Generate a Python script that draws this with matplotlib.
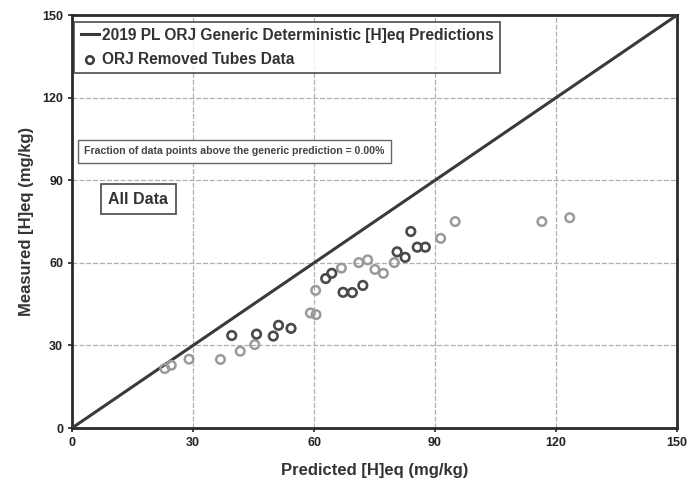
import matplotlib.pyplot as plt
import numpy as np

plt.rcParams['font.family'] = ['Liberation Sans', 'DejaVu Sans']

# predicted vs measured [H]eq
pred_light = [23.0, 24.6, 29.0, 36.8, 41.7, 45.3, 59.1, 60.5, 60.4, 66.8, 71.1,
              73.3, 75.1, 77.2, 79.9, 91.4, 95.0, 116.5, 123.4]
meas_light = [21.6, 22.8, 25.0, 24.9, 27.9, 30.3, 41.8, 41.2, 50.0, 58.1, 60.1,
              61.1, 57.6, 56.2, 60.1, 68.9, 75.0, 75.0, 76.4]
pred_dark = [39.6, 45.75, 49.9, 51.2, 54.3, 62.9, 64.4, 67.2, 69.5, 72.1,
             80.6, 82.6, 84.0, 85.6, 87.6]
meas_dark = [33.6, 34.1, 33.4, 37.3, 36.2, 54.3, 56.2, 49.3, 49.2, 51.8,
             64.0, 62.0, 71.4, 65.7, 65.7]
pred_line = [0, 150]
ticks = [0, 30, 60, 90, 120, 150]

fig = plt.figure(figsize=(6.88, 4.84), dpi=100)
ax = fig.add_axes([0.1047, 0.1157, 0.8793, 0.853])

ax.plot(pred_line, pred_line, color='#3a3a3a', lw=2.2,
        label='2019 PL ORJ Generic Deterministic [H]eq Predictions', zorder=3)
ax.scatter(pred_light, meas_light, s=38, facecolors='none', edgecolors='#9a9a9a',
           linewidths=1.8, zorder=4)
ax.scatter(pred_dark, meas_dark, s=38, facecolors='none', edgecolors='#4a4a4a',
           linewidths=1.9, zorder=4)
# legend proxy for the data points
ax.scatter([], [], s=30, facecolors='none', edgecolors='#3a3a3a', linewidths=1.8,
           label='ORJ Removed Tubes Data')

ax.set_xlim(0, 150)
ax.set_ylim(0, 150)
ax.set_xticks(ticks)
ax.set_yticks(ticks)
ax.tick_params(labelsize=9, width=1.2, length=3, colors='#222222')
for lbl in ax.get_xticklabels() + ax.get_yticklabels():
    lbl.set_fontweight('bold')
ax.grid(True, color='#b0b0b0', linestyle=(0, (4, 1.5)), lw=0.9)
for sp in ax.spines.values():
    sp.set_linewidth(2)
    sp.set_color('#2a2a2a')

ax.set_xlabel('Predicted [H]eq (mg/kg)', fontsize=12, fontweight='bold',
              color='#333333', labelpad=10)
ax.set_ylabel('Measured [H]eq (mg/kg)', fontsize=12, fontweight='bold',
              color='#333333', labelpad=6)

leg = ax.legend(loc='upper left', bbox_to_anchor=(0.0, 0.99), borderaxespad=0.15,
                frameon=True, fancybox=False, edgecolor='#333333',
                handlelength=1.2, handletextpad=0.2, borderpad=0.4,
                labelspacing=0.6, prop={'weight': 'bold', 'size': 11.2})
leg.get_frame().set_linewidth(1.3)
for t in leg.get_texts():
    t.set_color('#333333')

ax.text(3.0, 100.5, 'Fraction of data points above the generic prediction = 0.00%',
        fontsize=7.6, fontweight='bold', color='#444444', va='center', ha='left',
        bbox=dict(boxstyle='square,pad=0.6', fc='white', ec='#666666', lw=1.0),
        zorder=5)
ax.text(9.0, 83.2, 'All Data', fontsize=11.5, fontweight='bold', color='#333333',
        va='center', ha='left',
        bbox=dict(boxstyle='square,pad=0.45', fc='white', ec='#555555', lw=1.3),
        zorder=5)

fig.savefig('out.png', dpi=100)
